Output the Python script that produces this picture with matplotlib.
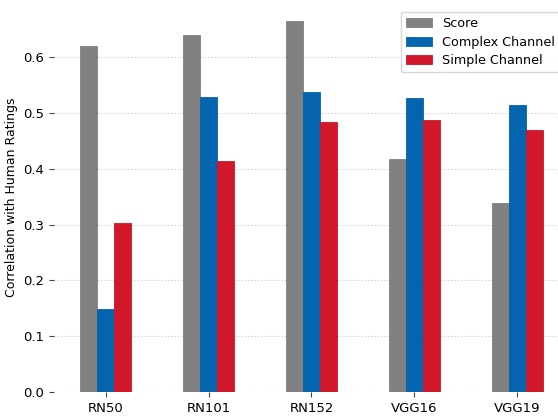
import numpy as np
import matplotlib.pyplot as plt

models = ["RN50", "RN101", "RN152", "VGG16", "VGG19"]
score = [0.621, 0.640, 0.665, 0.417, 0.338]
complex_channel = [0.149, 0.529, 0.538, 0.527, 0.514]
simple_channel = [0.303, 0.415, 0.485, 0.487, 0.470]

series = [("Score", score, "#7f7f7f"),
          ("Complex Channel", complex_channel, "#0061ad"),
          ("Simple Channel", simple_channel, "#d01325")]

fig = plt.figure(figsize=(5.58, 4.16), dpi=100)
ax = fig.add_axes([54.2 / 558, 24.2 / 416, 514.5 / 558, 389 / 416])

x = np.arange(len(models))
w = 0.5 / 3
for i, (name, vals, col) in enumerate(series):
    ax.bar(x + (i - 1) * w, vals, w, color=col, label=name,
           edgecolor=col, linewidth=0.6, alpha=0.98)

ax.set_xlim(-0.5, 4.5)
ax.set_ylim(0, 0.698)
ax.set_xticks(x)
ax.set_xticklabels(models, fontsize=9.5)
ax.set_yticks(np.arange(0, 0.61, 0.1))
ax.set_yticklabels(["%.1f" % v for v in np.arange(0, 0.61, 0.1)], fontsize=9.5)
ax.tick_params(length=3.5, color="#444444")
for s in ax.spines.values():
    s.set_visible(False)
ax.yaxis.grid(True, linestyle=(0, (1.5, 1.5)), color="#d8d8d8", linewidth=0.8)
ax.set_axisbelow(True)
ax.set_ylabel("Correlation with Human Ratings", fontsize=9)

ax.legend(loc="upper right", fontsize=9.2, frameon=True, edgecolor="#cccccc",
          fancybox=True, borderaxespad=0.7, labelspacing=0.45)

fig.savefig("out.png", dpi=100)
